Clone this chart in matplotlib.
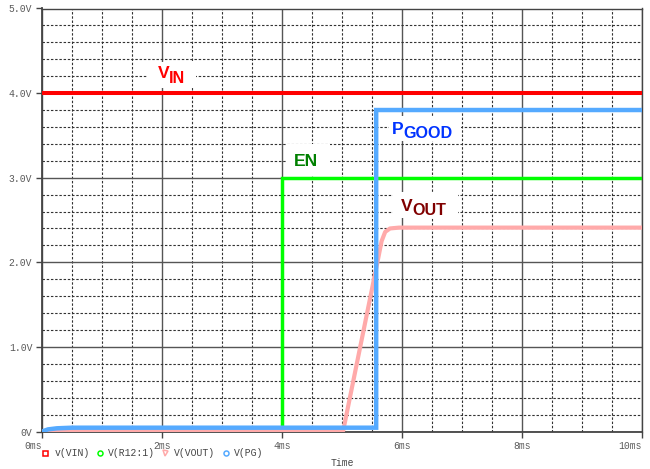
import matplotlib
matplotlib.use("Agg")
import matplotlib.pyplot as plt
from matplotlib.lines import Line2D
from matplotlib.patches import Rectangle
from matplotlib.ticker import MultipleLocator

# ---- data (time in ms, voltage in V) ----
t_vin = [0.0, 10.0]
v_vin = [4.0, 4.0]

t_en = [0.0, 4.0, 4.0, 10.0]
v_en = [0.0, 0.0, 3.0, 3.0]

t_vout = [0.0, 0.3, 5.02, 5.59, 5.66, 5.72, 5.80, 5.95, 10.0]
v_vout = [0.0, 0.01, 0.01, 2.0, 2.25, 2.36, 2.40, 2.41, 2.41]

t_pg = [0.0, 0.1, 0.25, 0.5, 5.57, 5.57, 10.0]
v_pg = [0.0, 0.025, 0.038, 0.045, 0.045, 3.80, 3.80]

x_ticks = [0, 2, 4, 6, 8, 10]
x_labels = ["0ms", "2ms", "4ms", "6ms", "8ms", "10ms"]
y_ticks = [0, 1, 2, 3, 4, 5]
y_labels = ["0V", "1.0V", "2.0V", "3.0V", "4.0V", "5.0V"]

legend_names = ["v(VIN)", "V(R12:1)", "V(VOUT)", "V(PG)"]

# ---- styling ----
c_vin = "#ff0000"
c_en = "#00ff00"
c_vout = "#ffaaaa"
c_pg = "#55aaff"
mono = "Liberation Mono"
tick_col = "#5a5a5a"

W, H = 650, 469
fig = plt.figure(figsize=(W / 100, H / 100), dpi=100)
x0, x1, y0, y1 = 42, 642, 431.5, 8.5
ax = fig.add_axes([x0 / W, 1 - y0 / H, (x1 - x0) / W, (y0 - y1) / H])
ax.set_xlim(0, 10)
ax.set_ylim(0, 5)

# grid
ax.xaxis.set_major_locator(MultipleLocator(2))
ax.xaxis.set_minor_locator(MultipleLocator(0.5))
ax.yaxis.set_major_locator(MultipleLocator(1))
ax.yaxis.set_minor_locator(MultipleLocator(0.2))
ax.grid(which="minor", color="#333333", linewidth=0.8, linestyle=(0, (2.2, 1.6)))
ax.grid(which="major", color="#555555", linewidth=1.0, linestyle="-")
ax.set_axisbelow(True)

ax.set_xticks(x_ticks)
ax.set_xticklabels(x_labels)
ax.set_yticks(y_ticks)
ax.set_yticklabels(y_labels)
ax.tick_params(which="minor", length=0)
ax.tick_params(which="major", length=4, width=1, color="#444444",
               labelsize=7, labelcolor=tick_col, pad=3)
for lab in ax.get_xticklabels() + ax.get_yticklabels():
    lab.set_family(mono)
xl = ax.get_xticklabels()
xl[0].set_ha("right")
xl[-1].set_ha("right")

for s in ax.spines.values():
    s.set_color("#444444")
    s.set_linewidth(1.0)
ax.spines["left"].set_linewidth(1.3)
ax.spines["bottom"].set_linewidth(1.3)

# series
ax.plot(t_vin, v_vin, color=c_vin, lw=2.9, zorder=3, solid_capstyle="butt")
ax.plot(t_en, v_en, color=c_en, lw=2.5, zorder=3, solid_joinstyle="miter")
ax.plot(t_vout, v_vout, color=c_vout, lw=3.0, zorder=4, solid_joinstyle="round")
ax.plot(t_pg, v_pg, color=c_pg, lw=3.2, zorder=5, solid_joinstyle="miter")

# labels with subscripts and white backing boxes
fig.canvas.draw()
renderer = fig.canvas.get_renderer()


def label(x, y, main, sub, color, pads):
    t = ax.text(x, y, main, color=color, fontsize=12.6, fontweight="bold",
                family="Liberation Sans", ha="left", va="baseline", zorder=7)
    ext = t.get_window_extent(renderer=renderer)
    xs1 = ext.x1
    if sub:
        w = ext.width * 72 / fig.dpi
        s = ax.annotate(sub, xy=(x, y), xycoords="data",
                        xytext=(w, -3.2), textcoords="offset points",
                        color=color, fontsize=11.6, fontweight="bold",
                        family="Liberation Sans", ha="left", va="baseline",
                        zorder=7)
        e2 = s.get_window_extent(renderer=renderer)
        xs1 = e2.x1
    bx, by = ax.transData.transform((x, y))
    pl, pr, pt, pb = pads
    left = bx - pl
    right = xs1 + pr
    top = by + 12.5 + pt
    bottom = by - (4.5 if sub else 0) - pb
    inv = ax.transAxes.inverted()
    (ax0, ay0) = inv.transform((left, bottom))
    (ax1, ay1) = inv.transform((right, top))
    ax.add_patch(Rectangle((ax0, ay0), ax1 - ax0, ay1 - ay0,
                           transform=ax.transAxes, facecolor="white",
                           edgecolor="none", zorder=6))


label(1.925, 4.175, "V", "IN", "#ff0000", (10, 11, 4, 5))
label(4.19, 3.14, "EN", "", "#008000", (7.5, 12, 9, 9))
label(5.835, 3.517, "P", "GOOD", "#0033ff", (3, 8, 5, 3))
label(5.985, 2.61, "V", "OUT", "#800000", (8, 11, 6, 3))

# legend row
leg_y = 1 - 452.5 / H
leg_items = [
    (45.3, 55, "s", c_vin),
    (100, 108.3, "o", c_en),
    (165.3, 174, "v", c_vout),
    (225.7, 234, "o", c_pg),
]
for (mx, tx, mk, col), name in zip(leg_items, legend_names):
    fig.add_artist(Line2D([mx / W], [leg_y], marker=mk, markersize=3.6,
                          markerfacecolor="none", markeredgecolor=col,
                          markeredgewidth=1.1, linestyle="none",
                          transform=fig.transFigure))
    fig.text(tx / W, 1 - 455.7 / H, name, family=mono, fontsize=7,
             color="#444444", ha="left", va="baseline")

fig.text(342 / W, 1 - 466 / H, "Time", family=mono, fontsize=7,
         color="#444444", ha="center", va="baseline")

fig.savefig("out.png", dpi=100)
